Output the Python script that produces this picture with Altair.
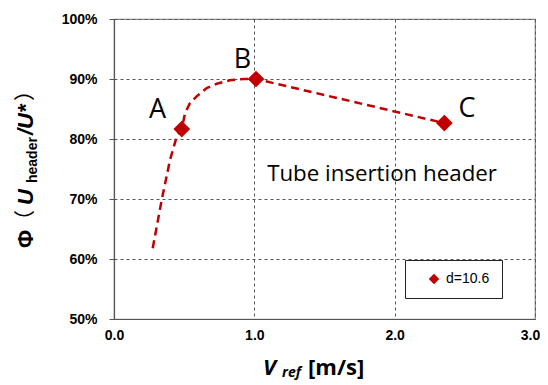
import altair as alt
import pandas as pd

# ---- data ----
pt_x = [0.483, 1.012, 2.354]
pt_y = [0.8165, 0.900, 0.8265]
pt_label = ["A", "B", "C"]
series_name = "d=10.6"

curve_x = [0.276, 0.340, 0.399, 0.447, 0.483, 0.506, 0.542, 0.589, 0.661, 0.732, 0.827, 0.922, 1.012, 2.354]
curve_y = [0.618, 0.6985, 0.765, 0.804, 0.8165, 0.843, 0.860, 0.871, 0.885, 0.892, 0.898, 0.900, 0.900, 0.8265]

lab_x = [0.310, 0.916, 2.516]
lab_y = [0.8354, 0.9189, 0.8371]

note_text = ["Tube insertion header"]
note_x = [1.91]
note_y = [0.7302]

x_ticks = [0.0, 1.0, 2.0, 3.0]
y_ticks = [0.5, 0.6, 0.7, 0.8, 0.9, 1.0]

RED = "#c00000"
W, H = 421, 300
PAD = "\u00a0" * 4

points = pd.DataFrame({"x": pt_x, "y": pt_y, "s": [series_name] * len(pt_x)})
curve = pd.DataFrame({"x": curve_x, "y": curve_y, "o": list(range(len(curve_x)))})
labels = pd.DataFrame({"x": lab_x, "y": lab_y, "t": pt_label})
note = pd.DataFrame({"x": note_x, "y": note_y, "t": note_text})

xs = alt.Scale(domain=[0, 3], nice=False)
ys = alt.Scale(domain=[0.5, 1.0], nice=False)

xax = alt.Axis(values=x_ticks, format=".1f", title=None, grid=True, ticks=False,
               labelFlush=False,
               labelOffset={"expr": "datum.value === 3 ? -5 : 0"},
               labelFont="Liberation Sans", labelFontSize=14, labelFontWeight="bold",
               labelColor="black", labelPadding=9, domainColor="#555", domainWidth=1.2,
               gridColor="#555", gridDash=[3, 3], gridWidth=1)
yax = alt.Axis(values=y_ticks, format=".0%", title=None, grid=True, tickSize=5,
               tickColor="#555", labelFont="Liberation Sans", labelFontSize=14,
               labelFontWeight="bold", labelColor="black", labelPadding=12,
               labelFlush=False,
               domainColor="#555", domainWidth=1.2,
               gridColor="#555", gridDash=[3, 3], gridWidth=1)

line = alt.Chart(curve).mark_line(color=RED, strokeWidth=2.5, strokeDash=[8, 5]).encode(
    x=alt.X("x:Q", scale=xs, axis=xax),
    y=alt.Y("y:Q", scale=ys, axis=yax),
    order="o:Q",
)

pts = alt.Chart(points).mark_point(shape="diamond", filled=True, size=280, opacity=1).encode(
    x=alt.X("x:Q", scale=xs),
    y=alt.Y("y:Q", scale=ys),
    color=alt.Color("s:N", scale=alt.Scale(domain=[series_name], range=[RED]),
                    legend=alt.Legend(title=PAD, titleOrient="right", titlePadding=0,
                                      titleFontSize=14, titleFont="Liberation Sans",
                                      orient="none", legendX=291, legendY=241,
                                      strokeColor="#222", fillColor="white", padding=12,
                                      symbolType="diamond", symbolSize=110,
                                      symbolOffset=10,
                                      labelFont="Liberation Sans", labelFontSize=14,
                                      labelColor="black", labelOffset=5)),
)

lab = alt.Chart(labels).mark_text(font="Open Sans", fontSize=27, align="center",
                                  baseline="alphabetic", color="black").encode(
    x=alt.X("x:Q", scale=xs), y=alt.Y("y:Q", scale=ys), text="t:N")

nt = alt.Chart(note).mark_text(font="Open Sans", fontSize=22.3, align="center",
                               baseline="alphabetic", color="black").encode(
    x=alt.X("x:Q", scale=xs), y=alt.Y("y:Q", scale=ys), text="t:N")


def piece(txt, px, py, size, angle=0, style="normal", weight="normal", font="Liberation Sans"):
    d = pd.DataFrame({"t": [txt]})
    kw = dict(font=font, fontSize=size, fontStyle=style, fontWeight=weight,
              align="left", baseline="middle" if angle else "alphabetic", color="black")
    if angle:
        kw["angle"] = angle
    return alt.Chart(d).mark_text(**kw).encode(
        x=alt.value(px), y=alt.value(py), text="t:N")


# y-axis title pieces (rotated), positions in plot-pixel coordinates
ytitle = [
    piece("Φ", -88, 229, 22, 270, weight="bold"),
    piece("（", -88, 212, 21, 270, font="Noto Sans CJK JP"),
    piece("U", -88, 186, 22, 270, style="italic", weight="bold"),
    piece("header", -81, 164, 14, 270, weight="bold"),
    piece("/U*", -88, 116, 22, 270, style="italic", weight="bold"),
    piece("）", -88, 82, 21, 270, font="Noto Sans CJK JP"),
]
xtitle = [
    piece("V", 149, 356, 22, style="italic", weight="bold", font="Open Sans"),
    piece("ref", 168, 358, 14, style="italic", weight="bold", font="Open Sans"),
    piece("[m/s]", 194, 356, 22, weight="bold", font="Open Sans"),
]

chart = alt.layer(line, pts, lab, nt, *ytitle, *xtitle).properties(
    width=W, height=H,
    autosize=alt.AutoSizeParams(type="none"),
    padding={"left": 106, "top": 11, "right": 5, "bottom": 62},
).configure_view(stroke="#888", strokeWidth=1.2)

chart.save("out.html", embed_options={"renderer": "svg", "actions": False})
